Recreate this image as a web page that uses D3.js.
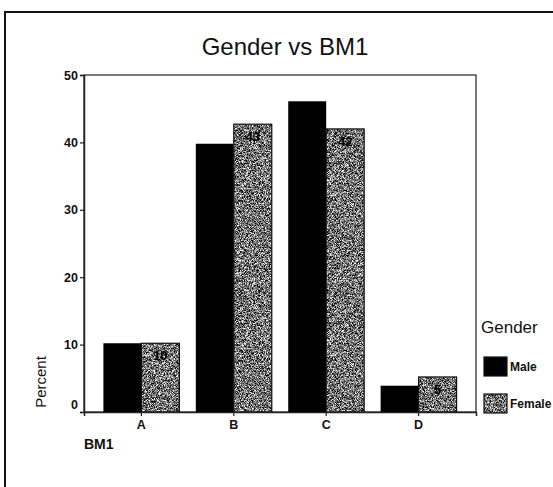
<!DOCTYPE html>
<html>
<head>
<meta charset="utf-8">
<script src="https://cdn.jsdelivr.net/npm/d3@7"></script>
<style>
  html, body { margin: 0; background: #fff; overflow: hidden; }
  svg { display: block; }
</style>
</head>
<body>
<div id="vizcontainer"></div>
<script>
const categories = ['A', 'B', 'C', 'D'];
const genders = ['Male', 'Female'];
const male = [10.2, 39.8, 46.1, 3.9];
const female = [10.2, 42.7, 42.0, 5.2];
const femaleLabels = ['10', '43', '42', '5'];
const yTicks = [0, 10, 20, 30, 40, 50];

const
  width = 553,
  height = 487,
  plot = { left: 84, right: 476, top: 75, bottom: 412 },
  font = 'Liberation Sans, Arial, sans-serif'
  ;

const svg = d3.select('#vizcontainer')
  .append('svg')
  .attr('width', width)
  .attr('height', height);

// stippled grey texture for the female bars
const defs = svg.append('defs');
const filt = defs.append('filter')
  .attr('id', 'stipple')
  .attr('color-interpolation-filters', 'sRGB')
  .attr('x', 0).attr('y', 0).attr('width', 1).attr('height', 1);
filt.append('feTurbulence')
  .attr('type', 'fractalNoise')
  .attr('baseFrequency', 1.6)
  .attr('numOctaves', 1)
  .attr('seed', 4)
  .attr('result', 'noise');
filt.append('feColorMatrix')
  .attr('in', 'noise')
  .attr('type', 'saturate')
  .attr('values', 0)
  .attr('result', 'grey');
const ct = filt.append('feComponentTransfer')
  .attr('in', 'grey')
  .attr('result', 'contrast');
['feFuncR', 'feFuncG', 'feFuncB'].forEach(f => {
  ct.append(f).attr('type', 'linear').attr('slope', 3.5).attr('intercept', -1.3);
});
ct.append('feFuncA').attr('type', 'table').attr('tableValues', '1 1');
filt.append('feComposite')
  .attr('in', 'contrast')
  .attr('in2', 'SourceGraphic')
  .attr('operator', 'in');

// outer frame (runs off the right and bottom edges)
svg.append('rect')
  .attr('x', 5).attr('y', 12)
  .attr('width', 700).attr('height', 600)
  .attr('fill', 'none')
  .attr('stroke', '#111')
  .attr('stroke-width', 2);

const x = d3.scaleBand()
  .domain(categories)
  .range([plot.left, plot.right])
  .paddingInner(0.178)
  .paddingOuter(0.21);

const x1 = d3.scaleBand()
  .domain(genders)
  .range([0, x.bandwidth()]);

const y = d3.scaleLinear()
  .domain([0, 50])
  .range([plot.bottom, plot.top]);

const data = categories.map((c, i) => ({ cat: c, Male: male[i], Female: female[i], label: femaleLabels[i] }));

// plot box
svg.append('rect')
  .attr('x', plot.left).attr('y', plot.top)
  .attr('width', plot.right - plot.left)
  .attr('height', plot.bottom - plot.top)
  .attr('fill', 'none')
  .attr('stroke', '#222')
  .attr('stroke-width', 1.2);

const groups = svg.append('g')
  .selectAll('g')
  .data(data)
  .join('g')
  .attr('transform', d => `translate(${x(d.cat)},0)`);

groups.append('rect')
  .attr('x', x1('Male'))
  .attr('y', d => y(d.Male))
  .attr('width', x1.bandwidth())
  .attr('height', d => y(0) - y(d.Male))
  .attr('fill', '#000');

groups.append('rect')
  .attr('x', x1('Female'))
  .attr('y', d => y(d.Female))
  .attr('width', x1.bandwidth())
  .attr('height', d => y(0) - y(d.Female))
  .attr('fill', '#888')
  .attr('filter', 'url(#stipple)');

groups.append('rect')
  .attr('x', x1('Female'))
  .attr('y', d => y(d.Female))
  .attr('width', x1.bandwidth())
  .attr('height', d => y(0) - y(d.Female))
  .attr('fill', 'none')
  .attr('stroke', '#111')
  .attr('stroke-width', 1.2);

groups.append('text')
  .text(d => d.label)
  .attr('x', x1('Female') + x1.bandwidth() / 2)
  .attr('y', d => y(d.Female) + 17)
  .attr('text-anchor', 'middle')
  .attr('font-family', font)
  .attr('font-weight', 'bold')
  .attr('font-size', '13px')
  .attr('fill', '#000');

// axes
const yAxis = svg.append('g')
  .attr('transform', `translate(${plot.left},0)`)
  .call(d3.axisLeft(y).tickValues(yTicks).tickSize(4).tickPadding(2));

const xAxis = svg.append('g')
  .attr('transform', `translate(0,${plot.bottom})`)
  .call(d3.axisBottom(x).tickSize(4).tickPadding(4));

[yAxis, xAxis].forEach(a => {
  a.select('.domain').attr('stroke', '#222').attr('stroke-width', 1.5);
  a.selectAll('.tick line').attr('stroke', '#222').attr('stroke-width', 1.2);
  a.selectAll('text')
    .attr('font-family', font)
    .attr('font-weight', 'bold')
    .attr('font-size', '12.5px')
    .attr('fill', '#111');
});
// the zero label sits a little above the axis line
yAxis.selectAll('.tick text').filter(d => d === 0).attr('dy', '-0.3em');

// titles
svg.append('text')
  .text('Gender vs BM1')
  .attr('x', 285)
  .attr('y', 55)
  .attr('text-anchor', 'middle')
  .attr('font-family', font)
  .attr('font-size', '24px')
  .attr('fill', '#111');

svg.append('text')
  .text('Percent')
  .attr('transform', 'translate(46,382) rotate(-90)')
  .attr('text-anchor', 'middle')
  .attr('font-family', font)
  .attr('font-size', '15px')
  .attr('fill', '#111');

svg.append('text')
  .text('BM1')
  .attr('x', 84)
  .attr('y', 449)
  .attr('font-family', font)
  .attr('font-weight', 'bold')
  .attr('font-size', '14px')
  .attr('fill', '#111');

// legend
svg.append('text')
  .text('Gender')
  .attr('x', 481)
  .attr('y', 333)
  .attr('font-family', font)
  .attr('font-size', '17px')
  .attr('fill', '#111');

const legend = svg.append('g')
  .selectAll('g')
  .data(genders)
  .join('g')
  .attr('transform', (d, i) => `translate(484,${357 + i * 37})`);

legend.append('rect')
  .attr('width', 23)
  .attr('height', 19)
  .attr('fill', d => d === 'Male' ? '#000' : '#888')
  .attr('filter', d => d === 'Male' ? null : 'url(#stipple)');

legend.append('rect')
  .attr('width', 23)
  .attr('height', 19)
  .attr('fill', 'none')
  .attr('stroke', '#111')
  .attr('stroke-width', 1.2);

legend.append('text')
  .text(d => d)
  .attr('x', 26)
  .attr('y', 14)
  .attr('font-family', font)
  .attr('font-weight', 'bold')
  .attr('font-size', '12px')
  .attr('fill', '#111');
</script>
</body>
</html>
